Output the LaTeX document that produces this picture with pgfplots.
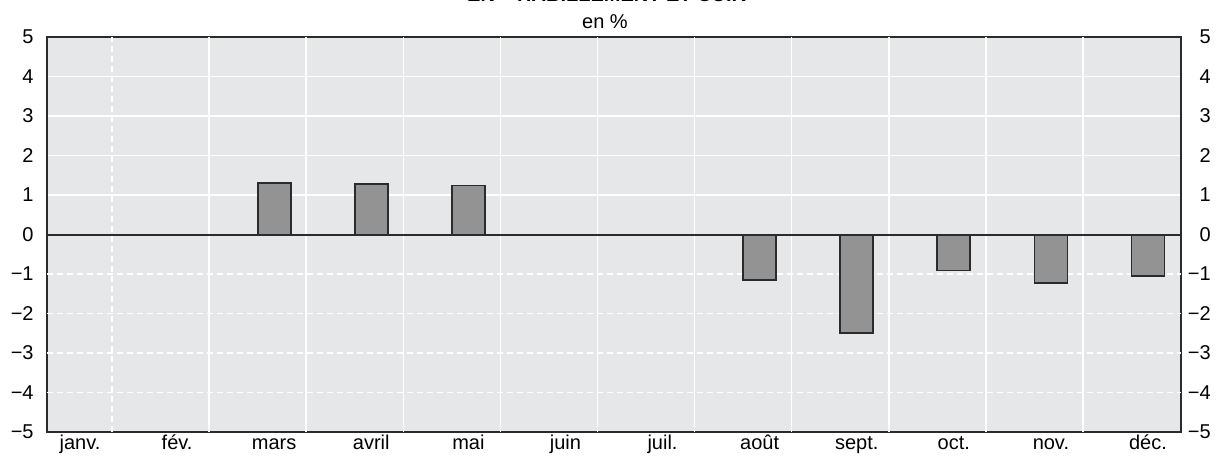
\documentclass[border=0pt]{standalone}
\usepackage{pgfplots}
\pgfplotsset{compat=1.18}
\usepackage{fontspec}
\setmainfont{Liberation Sans}
\definecolor{bg}{HTML}{E6E7E8}
\definecolor{barfill}{HTML}{939393}
\definecolor{frame}{HTML}{2B2B2B}
\begin{document}
\begin{tikzpicture}[font=\fontsize{10}{12}\selectfont]
\begin{axis}[
  at={(0,0)}, anchor=south west,
  scale only axis, width=567pt, height=197.5pt,
  xmin=-0.34, xmax=11.34, ymin=-5, ymax=5,
  axis background/.style={fill=bg},
  axis line style={frame, line width=1pt},
  major tick length=0pt,
  tick style={draw=none},
  xtick={0,...,11},
  xticklabels={janv.,fév.,mars,avril,mai,juin,juil.,août,sept.,oct.,nov.,déc.},
  xticklabel style={anchor=base, inner sep=0pt, yshift=-9pt},
  ytick={-5,0,1,2,3,4,5},
  yticklabels={−5,0,1,2,3,4,5},
  yticklabel style={anchor=east, inner sep=0pt, xshift=-6.5pt},
  ymajorgrids,
  major grid style={white, line width=0.75pt},
  extra y ticks={-4,-3,-2,-1},
  extra y tick labels={−4,−3,−2,−1},
  extra y tick style={tick style={draw=none}, major grid style={white, line width=0.75pt, dash pattern=on 3pt off 2pt}},
  extra x ticks={1.33,2.33,3.33,4.33,5.33,6.33,7.33,8.33,9.33,10.33},
  extra x tick labels={},
  extra x tick style={grid=major, tick style={draw=none}, major grid style={white, line width=0.75pt}},
  clip=false,
]
\draw[white, line width=0.75pt, dash pattern=on 3pt off 2pt] (axis cs:0.33,-5) -- (axis cs:0.33,5);
\addplot[ybar, bar width=0.34, fill=barfill, draw=frame, line width=0.9pt]
  coordinates {(2,1.31) (3,1.27) (4,1.24) (7,-1.16) (8,-2.49) (9,-0.91) (10,-1.22) (11,-1.06)};
\draw[frame, line width=1pt] (axis cs:-0.34,0) -- (axis cs:11.34,0);
\end{axis}
\begin{axis}[
  at={(0,0)}, anchor=south west,
  scale only axis, width=567pt, height=197.5pt,
  xmin=-0.34, xmax=11.34, ymin=-5, ymax=5,
  hide x axis,
  axis y line*=right,
  axis line style={draw=none},
  major tick length=0pt,
  tick style={draw=none},
  ytick={-5,...,5},
  yticklabels={−5,−4,−3,−2,−1,0,1,2,3,4,5},
  yticklabel style={anchor=east, inner sep=0pt, xshift=15pt},
]
\end{axis}
\node[anchor=base] at (279pt,201.5pt) {en \%};
\node[anchor=base, font=\fontsize{10}{12}\selectfont\bfseries] at (284pt,215pt) {EN «~HABILLEMENT ET CUIR~»};
\pgfresetboundingbox
\useasboundingbox (-23.5pt,-11.5pt) rectangle (586.5pt,216pt);
\end{tikzpicture}
\end{document}
